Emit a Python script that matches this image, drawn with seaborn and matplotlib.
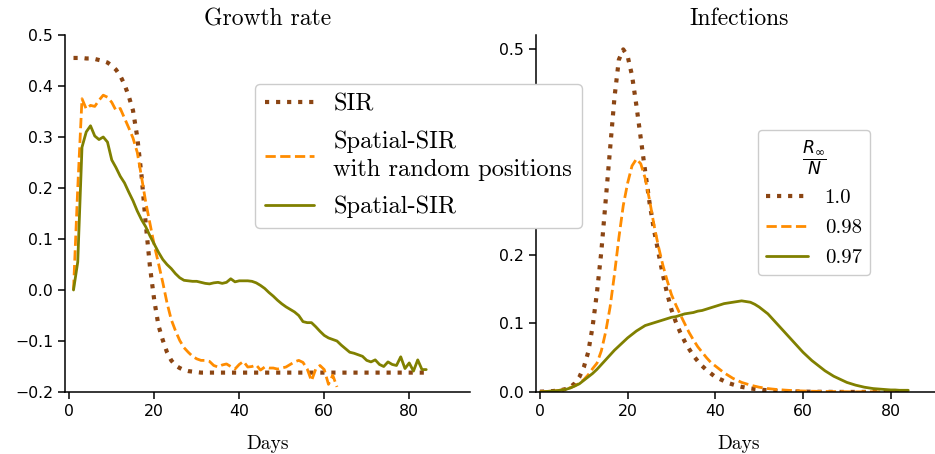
import matplotlib
matplotlib.use("Agg")
import matplotlib.pyplot as plt
import seaborn as sns

# growth rate panel, days 1..84 (random-position run stops at day 63)
days_growth = list(range(1, 85))
days_random = list(range(1, 64))

sir_growth = [
    0.455, 0.455, 0.455, 0.454, 0.454, 0.453, 0.451, 0.449, 0.446, 0.440,
    0.432, 0.420, 0.403, 0.380, 0.352, 0.300, 0.225, 0.130, 0.045, -0.020,
    -0.070, -0.098, -0.122, -0.138, -0.148, -0.153, -0.157, -0.159, -0.160, -0.161,
    -0.162, -0.162, -0.162, -0.162, -0.162, -0.162, -0.162, -0.162, -0.162, -0.162,
    -0.162, -0.162, -0.162, -0.162, -0.162, -0.162, -0.162, -0.162, -0.162, -0.162,
    -0.162, -0.162, -0.162, -0.162, -0.162, -0.162, -0.162, -0.162, -0.162, -0.162,
    -0.162, -0.162, -0.162, -0.162, -0.162, -0.162, -0.162, -0.162, -0.162, -0.162,
    -0.162, -0.162, -0.162, -0.162, -0.162, -0.162, -0.162, -0.162, -0.162, -0.162,
    -0.162, -0.162, -0.162, -0.162,
]

random_growth = [
    0.000, 0.200, 0.375, 0.355, 0.362, 0.360, 0.372, 0.382, 0.378, 0.368,
    0.352, 0.356, 0.337, 0.318, 0.298, 0.270, 0.222, 0.172, 0.130, 0.088,
    0.052, 0.015, -0.025, -0.058, -0.080, -0.099, -0.113, -0.122, -0.130, -0.135,
    -0.138, -0.138, -0.140, -0.148, -0.151, -0.147, -0.145, -0.150, -0.155, -0.146,
    -0.140, -0.151, -0.150, -0.147, -0.157, -0.151, -0.153, -0.153, -0.155, -0.153,
    -0.151, -0.146, -0.141, -0.138, -0.142, -0.155, -0.178, -0.155, -0.148, -0.156,
    -0.185, -0.167, -0.190,
]

spatial_growth = [
    0.000, 0.055, 0.280, 0.310, 0.322, 0.302, 0.295, 0.300, 0.290, 0.255,
    0.240, 0.223, 0.210, 0.192, 0.175, 0.155, 0.138, 0.124, 0.106, 0.090,
    0.074, 0.060, 0.050, 0.042, 0.032, 0.024, 0.019, 0.018, 0.017, 0.017,
    0.015, 0.013, 0.012, 0.014, 0.015, 0.013, 0.015, 0.022, 0.016, 0.018,
    0.018, 0.018, 0.017, 0.014, 0.009, 0.003, -0.005, -0.012, -0.020, -0.027,
    -0.033, -0.038, -0.043, -0.050, -0.062, -0.064, -0.064, -0.072, -0.081, -0.089,
    -0.094, -0.097, -0.100, -0.108, -0.115, -0.122, -0.124, -0.127, -0.130, -0.138,
    -0.141, -0.137, -0.146, -0.150, -0.141, -0.146, -0.148, -0.131, -0.154, -0.143,
    -0.159, -0.137, -0.156, -0.156,
]

# infections panel, days 0..84
days_inf = list(range(0, 85))

sir_inf = [
    0.0005, 0.0007, 0.001, 0.0014, 0.002, 0.003, 0.0045, 0.0075, 0.013, 0.022,
    0.036, 0.058, 0.095, 0.145, 0.205, 0.280, 0.355, 0.430, 0.485, 0.500,
    0.490, 0.462, 0.418, 0.370, 0.322, 0.276, 0.237, 0.204, 0.172, 0.144,
    0.120, 0.102, 0.087, 0.074, 0.063, 0.053, 0.045, 0.038, 0.032, 0.027,
    0.022, 0.019, 0.016, 0.013, 0.011, 0.009, 0.0075, 0.0063, 0.0052, 0.0044,
    0.0036, 0.003, 0.0025, 0.0021, 0.0017, 0.0014, 0.0012, 0.001, 0.0008, 0.0007,
    0.0006, 0.0005, 0.0004, 0.0003, 0.0003, 0.0002, 0.0002, 0.0001, 0.0001, 0.0001,
    0.0001, 0.0001, 0.0001, 0.0001, 0.0001, 0.0001, 0.0001, 0.0001, 0.0001, 0.0001,
    0.0001, 0.0001, 0.0001, 0.0001, 0.0001,
]

random_inf = [
    0.0005, 0.0007, 0.001, 0.0014, 0.002, 0.003, 0.0045, 0.0065, 0.009, 0.013,
    0.018, 0.025, 0.034, 0.042, 0.060, 0.088, 0.124, 0.172, 0.225, 0.272,
    0.305, 0.330, 0.340, 0.333, 0.312, 0.280, 0.244, 0.213, 0.186, 0.163,
    0.142, 0.127, 0.113, 0.100, 0.087, 0.076, 0.066, 0.058, 0.050, 0.043,
    0.038, 0.033, 0.028, 0.024, 0.020, 0.017, 0.014, 0.012, 0.010, 0.0085,
    0.007, 0.006, 0.005, 0.0043, 0.0037, 0.0032, 0.0027, 0.0023, 0.002, 0.0017,
    0.0015, 0.0013, 0.0011, 0.001, 0.0009, 0.0008, 0.0007, 0.0006, 0.0005, 0.0005,
    0.0004, 0.0003, 0.0003, 0.0003, 0.0003, 0.0003, 0.0003, 0.0003, 0.0003, 0.0003,
    0.0003, 0.0003, 0.0003, 0.0003, 0.0003,
]

spatial_inf = [
    0.000, 0.0005, 0.001, 0.0015, 0.002, 0.003, 0.004, 0.006, 0.009, 0.012,
    0.017, 0.022, 0.027, 0.033, 0.040, 0.047, 0.054, 0.061, 0.067, 0.073,
    0.079, 0.084, 0.089, 0.093, 0.097, 0.099, 0.101, 0.103, 0.105, 0.107,
    0.109, 0.110, 0.112, 0.114, 0.115, 0.116, 0.118, 0.119, 0.121, 0.123,
    0.125, 0.127, 0.129, 0.130, 0.131, 0.132, 0.133, 0.132, 0.131, 0.128,
    0.124, 0.119, 0.114, 0.107, 0.100, 0.093, 0.086, 0.079, 0.072, 0.065,
    0.058, 0.052, 0.046, 0.041, 0.036, 0.031, 0.027, 0.023, 0.020, 0.017,
    0.014, 0.012, 0.010, 0.0085, 0.007, 0.006, 0.005, 0.0045, 0.004, 0.0035,
    0.003, 0.003, 0.0025, 0.0025, 0.0025,
]

growth_labels = ["SIR", "Spatial-SIR\nwith random positions", "Spatial-SIR"]
ratio_labels = ["1.0", "0.98", "0.97"]

colors = ["#8B4513", "#FF8C00", "#808000"]
styles = [":", "--", "-"]
widths = [3, 2, 2]

sns.set_theme(style="ticks")
plt.rcParams["font.family"] = ["DejaVu Sans"]
plt.rcParams.update({
    "xtick.labelsize": 11.3, "ytick.labelsize": 11.3,
    "axes.linewidth": 1.1, "axes.edgecolor": "black",
    "xtick.color": "black", "ytick.color": "black",
    "text.color": "black", "axes.labelcolor": "black",
    "xtick.major.size": 5, "ytick.major.size": 5,
    "xtick.major.width": 1.1, "ytick.major.width": 1.1,
})
serif = "cmr10"

fig = plt.figure(figsize=(9.35, 4.54), dpi=100)
ax1 = fig.add_axes([65 / 935, 62 / 454, 405 / 935, 357 / 454])
ax2 = fig.add_axes([536 / 935, 62 / 454, 406 / 935, 357 / 454])

# Growth rate
for xs, ys, lab, c, ls, lw in zip([days_growth, days_random, days_growth],
                                  [sir_growth, random_growth, spatial_growth],
                                  growth_labels, colors, styles, widths):
    sns.lineplot(x=xs, y=ys, ax=ax1, color=c, linestyle=ls, linewidth=lw, label=lab)

# Infections
for ys, lab, c, ls, lw in zip([sir_inf, random_inf, spatial_inf],
                              ratio_labels, colors, styles, widths):
    sns.lineplot(x=days_inf, y=ys, ax=ax2, color=c, linestyle=ls, linewidth=lw, label=lab)

for ax in (ax1, ax2):
    if ax.get_legend() is not None:
        ax.get_legend().remove()
    ax.set_xticks([0, 20, 40, 60, 80])
    ax.set_xlabel("Days", fontfamily=serif, fontsize=14, labelpad=12)
    ax.set_ylabel("")

ax1.set_xlim(-1, 94.3)
ax1.set_ylim(-0.2, 0.5)
ax1.set_yticks([-0.2, -0.1, 0.0, 0.1, 0.2, 0.3, 0.4, 0.5])
ax1.set_title("Growth rate", fontfamily=serif, fontsize=17, pad=7)

ax2.set_xlim(-0.9, 91.7)
ax2.set_ylim(0, 0.521)
ax2.set_yticks([0.0, 0.1, 0.2, 0.3, 0.4, 0.5])
ax2.set_title("Infections", fontfamily=serif, fontsize=17, pad=7)

sns.despine(fig=fig)

h1, l1 = ax1.get_legend_handles_labels()
leg1 = fig.legend(h1, l1, loc="upper left", bbox_to_anchor=(255 / 935, 1 - 84 / 454),
                  borderaxespad=0, framealpha=1, labelspacing=0.6,
                  prop={"family": serif, "size": 17.6})
for t in leg1.get_texts():
    t.set_linespacing(1.35)

h2, l2 = ax2.get_legend_handles_labels()
fig.legend(h2, l2, loc="upper left", bbox_to_anchor=(758 / 935, 1 - 130 / 454),
           borderaxespad=0, framealpha=1, labelspacing=0.55,
           prop={"family": serif, "size": 15},
           title=r"$\dfrac{R_\infty}{N}$", title_fontsize=12.5)

fig.savefig("out.png", dpi=100)
plt.close(fig)
